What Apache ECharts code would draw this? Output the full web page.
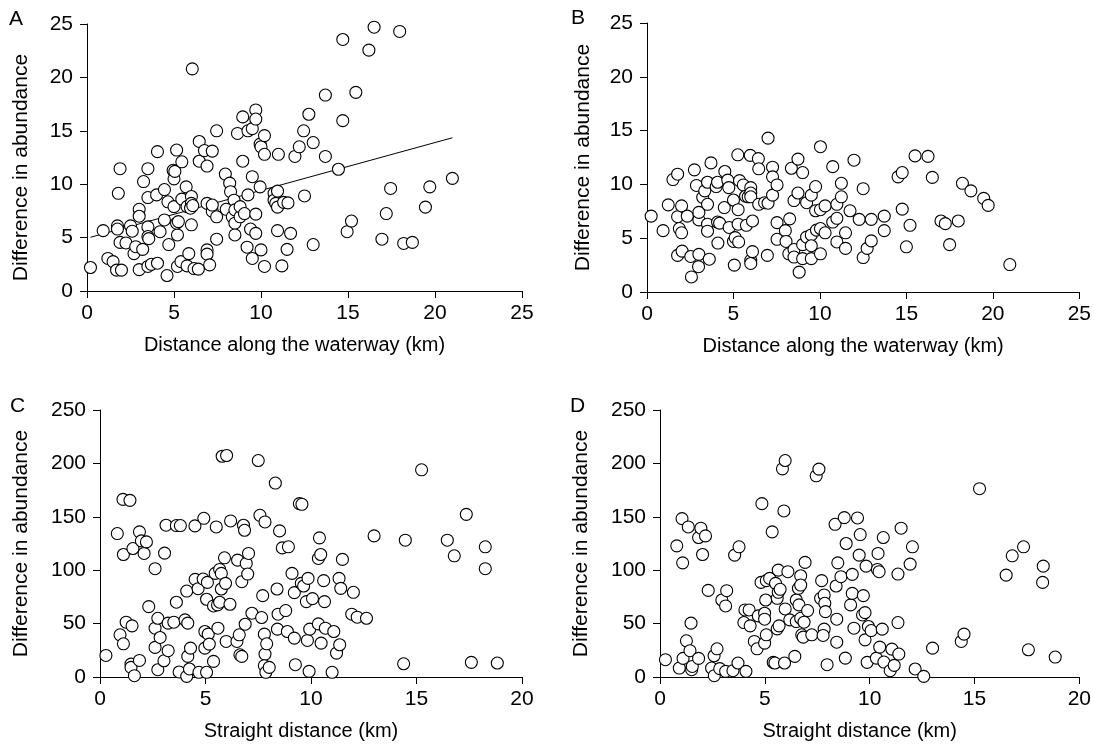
<!DOCTYPE html>
<html>
<head>
<meta charset="utf-8">
<script src="https://cdn.jsdelivr.net/npm/echarts@6/dist/echarts.min.js"></script>
<style>
  html, body { margin: 0; padding: 0; background: #fff; }
  #chart { width: 1094px; height: 747px; }
</style>
</head>
<body>
<div id="chart"></div>
<script>
// panel A: difference in abundance vs distance along the waterway
var dataA = [
  [0.2,2.2],[0.93,5.65],[1.2,3.05],[1.5,2.75],[1.75,6.1],[1.75,5.8],[1.7,1.95],[1.98,1.95],
  [1.9,11.45],[1.8,9.15],[1.9,4.55],[2.24,4.5],[2.5,6.1],[2.6,5.6],[2.7,3.5],[2.8,4.15],
  [3.0,7.65],[3.0,7.0],[3.0,2.0],[3.2,3.9],[3.25,10.25],[3.5,11.45],[3.5,8.75],[3.5,6.0],
  [3.5,5.1],[3.5,2.3],[3.55,4.9],[3.7,2.5],[4.0,9.0],[4.05,13.05],[4.05,2.6],[4.2,5.55],
  [4.45,9.5],[4.45,6.65],[4.65,8.35],[4.7,4.35],[4.6,1.45],[4.95,11.3],[5.0,10.5],[5.05,11.2],
  [5.0,7.9],[5.15,13.2],[5.2,5.25],[5.15,6.35],[5.25,6.5],[5.2,2.3],[5.45,12.1],[5.45,8.6],
  [5.4,2.75],[5.7,9.75],[5.75,7.9],[5.75,2.35],[5.85,3.5],[6.0,8.85],[6.0,8.2],[5.95,7.75],
  [6.05,20.8],[6.0,6.2],[6.15,2.1],[6.08,8.0],[6.4,2.05],[6.45,14.0],[6.45,12.15],[6.75,13.15],
  [6.9,11.7],[6.9,8.2],[6.9,3.85],[6.9,3.45],[7.05,2.45],[7.2,13.1],[7.2,7.45],[7.45,15.0],
  [7.45,4.85],[7.45,6.95],[7.2,8.05],[7.95,10.95],[8.0,7.65],[8.2,10.1],[8.25,9.3],[8.35,6.95],
  [8.45,8.5],[8.5,7.6],[8.5,6.35],[8.5,5.25],[8.65,14.75],[8.8,6.95],[8.8,7.9],[8.95,16.3],
  [8.95,12.15],[9.05,7.25],[9.25,15.0],[9.25,9.0],[9.2,4.1],[9.5,10.7],[9.5,15.2],[9.4,5.8],
  [9.5,3.05],[9.7,16.95],[9.7,16.1],[9.7,7.2],[9.7,5.4],[9.95,13.75],[10.0,13.5],[9.95,9.75],
  [10.0,3.85],[10.2,14.55],[10.2,12.8],[10.2,2.3],[10.75,9.15],[10.75,8.5],[10.85,8.2],[10.95,9.35],
  [11.0,12.8],[10.95,7.85],[10.95,5.65],[11.2,2.35],[11.3,8.3],[11.5,3.9],[11.55,8.25],[11.7,5.4],
  [11.95,12.6],[12.2,13.5],[12.45,15.0],[12.5,8.9],[12.75,16.55],[13.0,13.9],[13.0,4.35],[13.7,18.35],
  [13.7,12.6],[14.45,11.4],[14.7,23.55],[14.7,15.95],[14.95,5.55],[15.2,6.55],[15.45,18.6],[16.2,22.55],
  [16.5,24.7],[16.95,4.85],[17.2,7.25],[17.45,9.6],[17.97,24.3],[18.2,4.45],[18.7,4.55],[19.45,7.85],
  [19.7,9.75],[21.0,10.55]
];
// fitted line in panel A
var fitA = { intercept: 4.94, slope: 0.448, from: 0.2, to: 21.0 };

// panel B
var dataB = [
  [0.24,7.05],[0.93,5.7],[1.23,8.1],[1.5,10.45],[1.77,10.95],[1.77,7.0],[1.77,3.4],[1.87,5.9],
  [2.0,5.5],[2.0,8.0],[2.03,3.8],[2.33,7.05],[2.53,3.3],[2.57,1.4],[2.74,11.35],[2.86,9.9],
  [3.0,6.7],[3.0,7.4],[3.0,3.5],[2.98,2.35],[3.22,8.8],[3.34,9.4],[3.5,10.2],[3.5,8.15],
  [3.5,6.3],[3.5,5.65],[3.6,3.05],[3.7,12.0],[4.0,9.8],[4.08,10.2],[4.08,6.5],[4.2,6.4],
  [4.1,4.55],[4.47,7.85],[4.5,11.2],[4.67,10.4],[4.73,9.7],[4.75,6.0],[5.0,8.55],[5.0,4.7],
  [5.1,5.05],[5.05,2.5],[5.25,12.75],[5.27,7.65],[5.27,6.3],[5.35,10.35],[5.3,4.65],[5.57,9.95],
  [5.7,8.9],[5.75,6.2],[5.85,8.85],[5.97,12.7],[6.0,9.7],[6.0,9.2],[6.0,8.85],[6.1,6.6],
  [6.0,2.95],[6.0,2.65],[6.1,3.75],[6.44,12.4],[6.46,11.45],[6.46,8.15],[6.8,8.3],[7.0,14.3],
  [7.0,8.25],[6.96,3.4],[7.26,11.6],[7.26,10.7],[7.26,9.0],[7.52,9.95],[7.52,6.45],[7.52,4.9],
  [8.0,5.7],[8.04,4.7],[8.2,3.55],[8.25,6.8],[8.35,11.5],[8.5,8.5],[8.5,3.95],[8.5,3.25],
  [8.73,12.35],[8.73,9.2],[8.8,1.85],[9.0,11.1],[9.0,4.4],[9.0,3.1],[9.23,8.3],[9.23,5.1],
  [9.5,9.0],[9.5,5.3],[9.5,4.3],[9.5,3.1],[9.75,9.8],[9.75,7.55],[9.8,5.75],[10.03,13.5],
  [10.03,7.65],[10.03,3.55],[10.03,5.9],[10.3,8.0],[10.3,5.5],[10.74,11.65],[10.74,6.5],[10.98,8.15],
  [10.98,6.85],[10.98,4.65],[11.24,10.1],[11.24,8.85],[11.48,5.5],[11.48,4.05],[11.74,7.55],[11.97,12.25],
  [12.27,6.75],[12.5,9.6],[12.5,3.2],[12.73,4.05],[12.97,6.75],[12.97,4.75],[13.72,7.05],[13.72,5.7],
  [14.52,10.7],[14.76,11.1],[14.76,7.7],[15.0,4.2],[15.21,6.2],[15.5,12.65],[16.25,12.6],[16.5,10.65],
  [17.0,6.6],[17.25,6.35],[17.5,4.4],[18.0,6.6],[18.24,10.1],[18.73,9.4],[19.47,8.7],[19.73,8.05],
  [20.98,2.55]
];

// panel C: difference in abundance vs straight distance
var dataC = [
  [0.28,20.2],[0.82,134.3],[0.95,39.5],[1.11,31.1],[1.09,166.3],[1.42,165.4],[1.11,114.7],[1.24,51.3],
  [1.47,12.1],[1.47,9.0],[1.52,47.9],[1.56,120.3],[1.63,1.2],[1.87,135.9],[1.87,15.5],[1.96,127.5],
  [2.09,115.7],[2.2,126.5],[2.31,65.9],[2.61,101.4],[2.61,45.7],[2.61,27.7],[2.74,6.8],[2.74,55.0],
  [2.85,37.0],[3.03,15.2],[3.06,116.0],[3.13,142.1],[3.23,50.4],[3.23,24.6],[3.5,51.3],[3.62,70.0],
  [3.62,141.8],[3.81,141.8],[3.75,4.7],[4.03,53.5],[4.11,80.5],[4.16,50.4],[4.16,19.3],[4.11,0.6],
  [4.29,27.0],[4.24,7.5],[4.51,91.4],[4.5,141.5],[4.65,82.7],[4.69,4.4],[4.92,148.6],[4.89,91.7],
  [4.97,42.6],[4.97,27.0],[5.05,4.4],[5.09,88.6],[5.05,72.8],[5.13,40.1],[5.18,30.8],[5.38,66.5],
  [5.38,14.6],[5.46,97.0],[5.51,140.5],[5.59,45.7],[5.57,67.5],[5.67,100.7],[5.67,70.0],[5.75,97.0],
  [5.79,206.7],[5.75,82.4],[6.0,207.4],[5.95,87.7],[5.9,111.6],[5.98,33.3],[6.16,68.1],[6.19,146.1],
  [6.49,33.3],[6.52,109.4],[6.6,39.5],[6.63,20.8],[6.72,19.3],[6.72,89.2],[6.8,142.1],[6.85,137.4],
  [6.88,49.4],[6.93,106.3],[7.0,96.4],[7.04,115.7],[7.2,59.7],[7.5,202.7],[7.58,151.4],[7.66,55.7],
  [7.71,76.2],[7.82,145.2],[7.79,40.1],[7.82,21.5],[7.79,10.6],[7.86,4.4],[7.9,31.1],[8.02,9.0],
  [8.31,181.6],[8.39,82.4],[8.41,44.8],[8.44,58.8],[8.51,136.8],[8.64,120.9],[8.88,42.6],[8.8,62.2],
  [8.93,121.9],[9.1,97.0],[9.21,79.0],[9.21,36.4],[9.26,11.5],[9.45,162.3],[9.57,161.7],[9.54,87.7],
  [9.65,85.2],[9.78,70.6],[9.83,34.2],[9.86,92.3],[9.91,5.3],[9.94,44.8],[10.07,73.4],[10.35,111.0],
  [10.4,130.3],[10.46,114.7],[10.35,49.7],[10.48,31.7],[10.6,90.2],[10.64,70.6],[10.68,45.7],[11.0,4.4],
  [11.08,42.6],[11.21,22.4],[11.33,92.3],[11.41,83.0],[11.36,30.2],[11.49,110.1],[12.01,79.3],[11.93,58.8],
  [12.19,56.0],[12.63,55.0],[12.99,132.1],[14.39,12.4],[14.47,128.1],[15.24,194.0],[16.46,128.1],[16.79,113.5],
  [17.36,152.3],[17.6,13.7],[18.26,121.9],[18.26,101.4],[18.83,13.1]
];

// panel D
var dataD = [
  [0.26,16.2],[0.8,122.8],[0.92,8.4],[1.05,148.3],[1.08,106.9],[1.1,17.4],[1.26,33.9],[1.35,140.5],
  [1.43,24.6],[1.48,50.4],[1.51,6.8],[1.54,9.9],[1.84,17.4],[1.84,130.6],[1.95,139.3],[2.17,132.1],
  [2.03,114.7],[2.3,81.1],[2.46,8.4],[2.58,19.9],[2.59,1.2],[2.72,26.4],[2.85,7.8],[2.95,72.1],
  [3.13,66.5],[3.18,80.8],[3.13,5.3],[3.48,5.9],[3.56,114.1],[3.77,121.9],[3.72,13.1],[4.0,51.0],
  [4.05,62.8],[4.1,5.3],[4.25,62.8],[4.3,47.9],[4.5,33.3],[4.63,26.4],[4.69,57.2],[4.86,162.3],
  [4.82,88.6],[4.99,59.7],[4.99,54.1],[4.99,31.7],[5.07,39.5],[5.04,72.1],[5.07,90.2],[5.23,92.3],
  [5.35,135.9],[5.4,13.7],[5.48,13.1],[5.51,87.7],[5.59,73.7],[5.59,45.1],[5.64,100.1],[5.64,79.3],
  [5.68,47.9],[5.73,82.1],[5.84,194.9],[5.91,155.5],[5.97,202.7],[5.97,63.7],[5.94,13.1],[6.1,98.6],
  [6.19,53.5],[6.43,19.3],[6.5,72.1],[6.5,51.9],[6.6,83.0],[6.63,67.5],[6.71,94.8],[6.71,86.1],
  [6.71,55.0],[6.76,39.5],[6.83,37.3],[6.87,51.3],[6.92,107.3],[7.04,62.2],[7.24,39.5],[7.45,188.4],
  [7.58,194.6],[7.66,73.7],[7.71,90.2],[7.83,76.8],[7.83,44.8],[7.86,69.0],[7.78,38.9],[7.89,61.2],
  [7.97,11.5],[8.35,143.0],[8.4,85.2],[8.43,54.1],[8.43,32.6],[8.48,106.9],[8.63,93.9],[8.79,149.2],
  [8.84,17.7],[8.88,125.0],[9.09,67.5],[9.17,78.3],[9.17,96.1],[9.25,45.7],[9.42,148.9],[9.5,114.1],
  [9.55,133.4],[9.66,58.1],[9.7,76.2],[9.78,60.3],[9.78,34.8],[9.83,103.8],[9.88,13.7],[9.94,47.3],
  [10.07,43.5],[10.32,17.7],[10.4,115.7],[10.37,100.7],[10.45,98.6],[10.48,28.0],[10.6,44.8],[10.65,130.6],
  [10.68,14.0],[10.98,5.9],[11.06,26.1],[11.17,10.9],[11.35,96.4],[11.35,51.0],[11.39,21.5],[11.5,139.3],
  [11.93,105.7],[12.04,121.9],[12.17,7.5],[12.58,0.6],[13.0,27.0],[14.37,33.3],[14.5,40.1],[15.24,176.3],
  [16.51,95.4],[16.8,113.5],[17.34,121.9],[17.57,25.5],[18.28,103.8],[18.25,88.6],[18.85,18.7]
];

var panelLetters = ['A', 'B', 'C', 'D'];
var yTitle = 'Difference in abundance';
var xTitleTop = 'Distance along the waterway (km)';
var xTitleBottom = 'Straight distance (km)';

var FONT = '"Liberation Sans", Arial, Helvetica, sans-serif';
var FS = 21;

var grids = [
  { left: 87, top: 24, width: 435, height: 267 },
  { left: 647, top: 23, width: 436, height: 269 },
  { left: 100, top: 410, width: 422, height: 267 },
  { left: 660, top: 410, width: 423, height: 267 }
];

function xAx(i, max, name) {
  return {
    gridIndex: i, type: 'value', min: 0, max: max, interval: 5,
    name: name, nameLocation: 'middle', nameGap: 44,
    // shifted a little left of the axis centre, as in the original
    nameTextStyle: { color: '#000', fontSize: 20, fontFamily: FONT, padding: [0, 20, 0, 0] },
    axisLine: { show: true, onZero: false, lineStyle: { color: '#000', width: 1 } },
    axisTick: { show: true, inside: false, length: 7, lineStyle: { color: '#000' } },
    axisLabel: { color: '#000', fontSize: FS, fontFamily: FONT, margin: 12 },
    splitLine: { show: false }
  };
}
function yAx(i, max, interval, gap, shift) {
  return {
    gridIndex: i, type: 'value', min: 0, max: max, interval: interval,
    name: yTitle, nameLocation: 'middle', nameGap: gap, nameRotate: 90,
    nameTextStyle: { color: '#000', fontSize: FS, fontFamily: FONT, padding: [0, shift, 0, 0] },
    axisLine: { show: true, onZero: false, lineStyle: { color: '#000', width: 1 } },
    axisTick: { show: true, inside: false, length: 7, lineStyle: { color: '#000' } },
    axisLabel: { color: '#000', fontSize: FS, fontFamily: FONT, margin: 14 },
    splitLine: { show: false }
  };
}
function pts(i, data) {
  return {
    type: 'scatter', xAxisIndex: i, yAxisIndex: i, data: data,
    symbol: 'circle', symbolSize: 12,
    itemStyle: { color: '#fff', borderColor: '#000', borderWidth: 1.1, opacity: 1 },
    emphasis: { disabled: true }
  };
}

var fitLine = [
  [fitA.from, fitA.intercept + fitA.slope * fitA.from],
  [fitA.to, fitA.intercept + fitA.slope * fitA.to]
];

var letterPos = [[9, 9], [571, 8], [10, 396], [570, 396]];

var myChart = echarts.init(document.getElementById('chart'));
var option = {
  animation: false,
  backgroundColor: '#fff',
  grid: grids,
  xAxis: [xAx(0, 25, xTitleTop), xAx(1, 25, xTitleTop), xAx(2, 20, xTitleBottom), xAx(3, 20, xTitleBottom)],
  yAxis: [yAx(0, 25, 5, 55, 20), yAx(1, 25, 5, 53, 0), yAx(2, 250, 50, 68, 0), yAx(3, 250, 50, 68, 0)],
  graphic: panelLetters.map(function (t, i) {
    return {
      type: 'text', left: letterPos[i][0], top: letterPos[i][1],
      style: { text: t, fill: '#000', font: FS + 'px ' + FONT }
    };
  }),
  series: [
    pts(0, dataA),
    {
      type: 'line', xAxisIndex: 0, yAxisIndex: 0, data: fitLine,
      showSymbol: false, lineStyle: { color: '#000', width: 1 }, z: 1
    },
    pts(1, dataB),
    pts(2, dataC),
    pts(3, dataD)
  ]
};
myChart.setOption(option);
window.addEventListener('resize', function () { myChart.resize(); });
</script>
</body>
</html>
